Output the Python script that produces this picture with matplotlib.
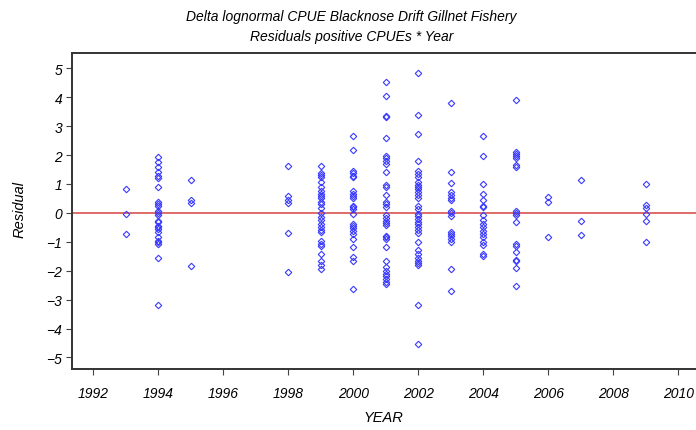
import matplotlib
matplotlib.use('Agg')
import matplotlib.pyplot as plt
import numpy as np

# residuals of positive CPUEs, read by year from the reference
years = [1993, 1994, 1995, 1998, 1999, 2000, 2001, 2002, 2003, 2004, 2005, 2006, 2007, 2009]
resid = {
    1993: [0.83, -0.05, -0.74],
    1994: [1.93, 1.75, 1.58, 1.43, 1.29, 1.20, 0.89, 0.39, 0.31, 0.25, 0.08, 0.0,
           -0.09, -0.27, -0.32, -0.44, -0.50, -0.55, -0.67, -0.84, -0.96, -1.01,
           -1.07, -1.55, -3.18],
    1995: [1.14, 0.43, 0.35, -1.84],
    1998: [1.62, 0.58, 0.43, 0.35, -0.69, -2.05],
    1999: [1.62, 1.38, 1.31, 1.23, 1.08, 0.89, 0.77, 0.66, 0.60, 0.51, 0.39, 0.31,
           0.16, 0.0, -0.15, -0.23, -0.38, -0.50, -0.58, -0.67, -0.96, -1.07,
           -1.13, -1.42, -1.68, -1.82, -1.94],
    2000: [2.65, 2.16, 1.46, 1.38, 1.29, 1.23, 0.74, 0.66, 0.60, 0.51, 0.25, 0.20,
           0.12, -0.03, -0.38, -0.44, -0.53, -0.61, -0.73, -0.90, -1.19, -1.53,
           -1.65, -2.65],
    2001: [4.54, 4.04, 3.35, 3.33, 2.58, 1.96, 1.89, 1.81, 1.70, 1.43, 0.97, 0.89,
           0.62, 0.39, 0.31, 0.20, -0.09, -0.18, -0.27, -0.35, -0.42, -0.79,
           -0.84, -0.90, -1.19, -1.65, -1.88, -2.00, -2.11, -2.19, -2.28, -2.38,
           -2.46],
    2002: [4.83, 3.37, 2.72, 1.78, 1.46, 1.35, 1.23, 1.06, 0.97, 0.89, 0.81, 0.72,
           0.62, 0.51, 0.25, 0.12, -0.03, -0.11, -0.21, -0.32, -0.38, -0.50,
           -0.58, -0.69, -0.99, -1.30, -1.42, -1.57, -1.65, -1.73, -1.80, -3.18,
           -4.53],
    2003: [3.81, 1.43, 1.03, 0.72, 0.62, 0.51, 0.43, 0.08, 0.0, -0.11, -0.65,
           -0.73, -0.81, -0.90, -0.99, -1.94, -2.71],
    2004: [2.65, 1.98, 0.99, 0.66, 0.46, 0.25, 0.20, -0.09, -0.23, -0.38, -0.50,
           -0.61, -0.73, -0.84, -0.99, -1.11, -1.42, -1.50],
    2005: [3.92, 2.12, 2.04, 1.96, 1.89, 1.66, 1.58, 0.08, 0.0, -0.09, -0.30,
           -1.07, -1.13, -1.36, -1.62, -1.68, -1.91, -2.54],
    2006: [0.54, 0.37, -0.84],
    2007: [1.12, -0.29, -0.76],
    2009: [1.00, 0.28, 0.16, -0.03, -0.27, -0.99],
}
xticks = list(range(1992, 2011, 2))
yticks = list(range(-5, 6))

FONT = ['Liberation Sans Narrow', 'Liberation Sans', 'DejaVu Sans']
plt.rcParams['font.family'] = FONT
plt.rcParams['font.style'] = 'italic'

fig = plt.figure(figsize=(6.96, 4.31), dpi=100)
# right side of the frame runs past the picture edge, like the reference
ax = fig.add_axes([72/696, 61/431, 638.6/696, 316/431])

x = []
y = []
for yr in years:
    x += [yr]*len(resid[yr])
    y += resid[yr]
ax.plot(x, y, linestyle='none', marker='D', markersize=3.3,
        markerfacecolor='none', markeredgecolor='#3a3aff', markeredgewidth=0.8)
ax.axhline(0, color='#d9534f', lw=1.2, zorder=0)

ax.set_xlim(1991.35, 2011.0)
ax.set_ylim(-5.40, 5.53)
ax.set_xticks(xticks)
ax.set_yticks(yticks)
ax.set_yticklabels([('\u2212%d' % -v) if v < 0 else str(v) for v in yticks])
ax.tick_params(direction='out', length=4, width=0.8, color='#444444',
               labelsize=10, pad=3)
ax.tick_params(axis='x', pad=8)
for s in ['left', 'bottom', 'top', 'right']:
    ax.spines[s].set_linewidth(1.4)
    ax.spines[s].set_color('#333333')

fig.text(0.505, 1 - 17/431, 'Delta lognormal CPUE Blacknose Drift Gillnet Fishery',
         ha='center', va='center', fontsize=10)
fig.text(0.505, 1 - 37/431, 'Residuals positive CPUEs * Year',
         ha='center', va='center', fontsize=10)
fig.text(383/696, 1 - 418/431, 'YEAR', ha='center', va='center', fontsize=10.5)
fig.text(20/696, 1 - 210/431, 'Residual', ha='center', va='center',
         rotation=90, fontsize=10.5)

fig.savefig('out.png', dpi=100)
